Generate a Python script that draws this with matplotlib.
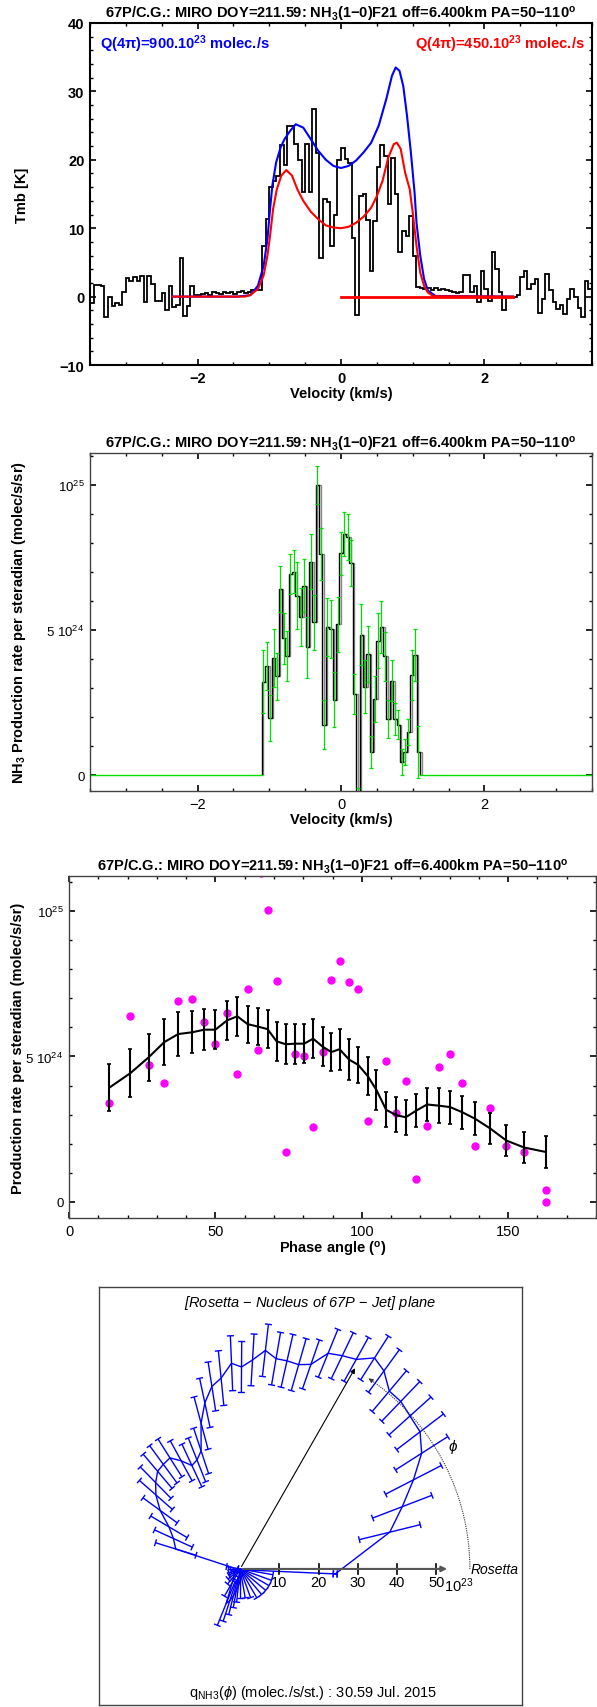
import numpy as np
import matplotlib
matplotlib.use("Agg")
import matplotlib.pyplot as plt
import matplotlib.transforms as mtransforms
from matplotlib.ticker import MultipleLocator
from matplotlib.collections import LineCollection

plt.rcParams['font.family'] = ['Liberation Sans', 'DejaVu Sans']
plt.rcParams['mathtext.fontset'] = 'custom'
plt.rcParams['mathtext.rm'] = 'Liberation Sans'
plt.rcParams['mathtext.it'] = 'Liberation Sans:italic'
plt.rcParams['mathtext.bf'] = 'Liberation Sans:bold'

W, H = 597, 1708
TITLE = r"67P/C.G.: MIRO DOY=211.59: NH$_\mathbf{3}$(1$\mathbf{-}$0)F21 off=6.400km PA=50$\mathbf{-}$110$^\mathbf{o}$"

# --- panel 1: observed spectrum and two models
spec_v0 = -3.5
spec_dv = 0.05
spec_tmb = [-1.0, 1.7, 1.7, 1.6, -3.0, 0.0, -1.4, -0.9, -1.2, 0.6, 2.7, 2.3, 2.9, 2.3, 3.0,
            -0.8, 3.0, 1.9, -0.6, -0.6, 0.5, -1.9, 1.6, -1.5, -1.3, 5.7, -2.8, -1.4, 1.5, 0.2,
            0.3, 0.4, 0.5, 0.3, 0.6, 0.5, 0.4, 0.6, 0.5, 0.7, 0.4, 0.6, 0.8, 0.5, 0.7, 0.9, 1.0, 0.9,
            7.4, 11.4, 16.0,
            16.9, 17.7, 22.2, 19.3, 24.9, 24.9, 22.3, 19.9, 15.3, 22.3, 15.3, 27.4, 21.0, 5.7,
            14.2, 13.8, 7.4, 12.0, 20.0, 21.7, 20.1, 19.6, 8.5, -2.7, 14.7, 15.0, 11.2, 3.8,
            11.0, 18.9, 22.2, 20.6, 13.5, 20.3, 15.0, 6.5, 9.6, 8.9, 11.8, 6.0,
            1.4, 1.2, 1.1, 1.3, 1.0, 1.2, 0.9, 1.1, 1.0, 0.8, 0.7, 0.5, 0.6,
            3.1, 3.1, 0.6, 1.6, -0.8, 3.8, 1.1, -0.7, 6.5, 4.1, 0.7, -1.9, 0.0, 0.0, 0.0, 0.2,
            2.8, 3.8, 1.1, 1.8, 2.6, -2.4, -0.3, 3.3, 0.9, -0.8, -1.8, -1.3, -2.5, -0.3, 1.1,
            -0.1, -1.6, -3.0, 2.3, 1.1]

blue_v = [-2.35, -1.45, -1.263, -1.158, -1.079, -1.026, -0.989, -0.958, -0.905, -0.842,
          -0.789, -0.711, -0.632, -0.526, -0.421, -0.316, -0.211, -0.105, 0.0, 0.105, 0.211,
          0.316, 0.421, 0.526, 0.632, 0.711, 0.763, 0.816, 0.868, 0.921, 0.974, 1.026, 1.053,
          1.105, 1.158, 1.211, 1.316, 2.4]
blue_tmb = [0, 0, 0.2, 1.6, 4.5, 8.4, 12.8, 16.2, 19.6, 21.8, 23.0, 24.2, 25.2, 24.7, 23.0,
            21.3, 20.0, 19.1, 18.8, 19.1, 19.9, 21.1, 22.5, 25.0, 28.9, 32.3, 33.5, 33.0, 30.8,
            26.4, 21.1, 15.2, 10.8, 6.0, 2.6, 0.9, 0.1, 0]

red_v = [-2.35, -1.34, -1.263, -1.158, -1.079, -1.026, -0.989, -0.947, -0.895, -0.832,
         -0.763, -0.684, -0.605, -0.526, -0.421, -0.316, -0.211, -0.105, 0.0, 0.105, 0.211,
         0.316, 0.421, 0.5, 0.579, 0.658, 0.737, 0.779, 0.832, 0.895, 0.958, 1.0, 1.053,
         1.105, 1.158, 1.211, 1.289, 2.4]
red_tmb = [0, 0, 0.25, 1.1, 3.1, 6.0, 8.9, 12.8, 15.7, 17.7, 18.5, 17.7, 15.6, 14.0, 12.4,
           11.3, 10.4, 10.1, 10.0, 10.2, 10.8, 11.7, 13.0, 14.7, 16.9, 20.3, 22.3, 22.5, 21.6,
           18.1, 15.7, 12.3, 7.4, 3.5, 1.6, 0.6, 0.05, 0]
red_flat_v = [0.0, 2.4]

# --- panel 2: production rate per channel (1e24 molec/s/sr)
rate_v0 = -1.105
rate_dv = 0.047
rate = [3.22, 3.77, 1.97, 4.02, 3.40, 6.41, 4.71, 4.11, 6.93, 7.01, 6.18, 5.44, 6.53, 4.40,
        7.36, 5.26, 10.0, 7.62, 1.74, 5.09, 5.03, 2.59, 5.20, 7.64, 8.30, 8.20, 7.30, 2.79,
        -0.60, 4.84, 3.05, 4.17, 0.80, 2.62, 4.63, 5.09, 4.09, 1.93, 3.25, 1.93, 1.74, 0.44,
        0.80, 1.49, 3.45, 4.14, 0.80]
rate_err = [1.09, 0.83, 0.80, 1.00, 0.82, 0.78, 0.89, 0.86, 0.70, 0.75, 1.15, 1.00, 0.90,
            1.05, 0.95, 0.95, 0.66, 0.90, 0.85, 1.00, 1.00, 0.95, 0.95, 0.75, 0.75, 0.80,
            0.80, 0.70, 0.15, 1.05, 0.90, 0.95, 0.55, 0.80, 0.95, 0.90, 0.85, 0.65, 0.70,
            0.55, 0.50, 0.45, 0.45, 0.45, 0.85, 0.90, 0.90]

# --- panel 3: rate versus phase angle
phase = [13.8, 21.0, 27.2, 32.5, 37.3, 42.0, 46.2, 50.0, 54.0, 57.5, 61.0, 64.4, 67.8, 70.9,
         74.0, 77.3, 80.3, 83.4, 86.6, 89.6, 92.4, 95.7, 98.8, 102.0, 105.0, 108.3, 111.6,
         115.0, 118.6, 122.3, 126.3, 130.2, 134.4, 138.7, 143.8, 149.4, 155.5, 162.8]
rate_mean = [3.93, 4.43, 4.97, 5.49, 5.77, 5.83, 5.92, 5.92, 6.24, 6.38, 6.11, 6.03, 5.94,
             5.52, 5.42, 5.44, 5.44, 5.61, 5.34, 5.15, 5.25, 4.89, 4.71, 4.33, 3.85, 3.17,
             2.99, 2.91, 3.14, 3.35, 3.31, 3.26, 3.08, 2.86, 2.53, 2.11, 1.87, 1.72]
rate_mean_err = [0.80, 0.81, 0.80, 0.79, 0.75, 0.72, 0.70, 0.68, 0.67, 0.66, 0.64, 0.65,
                 0.66, 0.66, 0.69, 0.69, 0.68, 0.67, 0.66, 0.65, 0.70, 0.70, 0.63, 0.64,
                 0.69, 0.61, 0.60, 0.60, 0.58, 0.57, 0.59, 0.57, 0.56, 0.56, 0.54, 0.54,
                 0.53, 0.54]
chan_phase = phase + [162.8, 65.5]
chan_rate = [3.39, 6.40, 4.69, 4.10, 6.92, 6.98, 6.17, 5.44, 6.51, 4.40, 7.33, 5.23, 10.04,
             7.60, 1.71, 5.08, 5.02, 2.57, 5.17, 7.64, 8.28, 7.57, 7.31, 2.79, np.nan, 4.83,
             3.05, 4.16, 0.80, 2.61, 4.63, 5.08, 4.08, 1.93, 3.22, 1.94, 1.73, 0.41,
             0.0, 11.32]

# --- panel 4: q(phi) in the jet plane (1e23 molec/s/st)
low_phi = [170, 180, 190, 200, 210, 220, 230, 240, 248, 252, 256, 260, 264, 270, 280, 290,
           300, 310, 320, 330, 340, 350]
low_q = [2.0, 1.5, 1.2, 1.5, 1.8, 2.0, 2.5, 4.0, 9.5, 8.5, 7.0, 5.5, 4.5, 3.0, 2.0, 1.8,
         1.5, 1.5, 1.5, 1.5, 1.5, 1.5]
low_sig = [1.5, 1.5, 1.2, 1.5, 1.5, 2.0, 2.5, 4.0, 6.0, 5.5, 5.0, 4.5, 4.0, 4.5, 5.5, 6.0,
           7.0, 7.0, 7.0, 7.0, 7.0, 7.0]
front_phi, front_q, front_sig = -3.0, 24.3, 0.5
jet_angle, jet_len = 60.2, 59.7
arc_r, arc_end = 58.6, 56.0
axis_ticks = [10, 20, 30, 40, 50]


def axpos(l, t, r, b):
    return [l / W, 1 - b / H, (r - l) / W, (b - t) / H]


def style(ax, lw=1.5, color='black'):
    for s in ax.spines.values():
        s.set_linewidth(lw)
        s.set_color(color)
    ax.tick_params(which='both', direction='in', top=True, right=True, labelsize=10.5,
                   pad=4)
    ax.tick_params(which='major', length=4.5, width=1.2)
    ax.tick_params(which='minor', length=2.2, width=1.0)


fig = plt.figure(figsize=(W / 100, H / 100), dpi=100)

# panel 1
ax = fig.add_axes(axpos(90, 24, 592, 366))
edges = spec_v0 + spec_dv * np.arange(len(spec_tmb) + 1)
ax.stairs(spec_tmb, edges, color='black', linewidth=1.3, baseline=None)
ax.plot(blue_v, blue_tmb, color='#0000ff', linewidth=1.5)
ax.plot(red_v, red_tmb, color='#ff0000', linewidth=1.5)
ax.plot(red_flat_v, [0, 0], color='#ff0000', linewidth=2.0)
ax.set_xlim(-3.5, 3.5)
ax.set_ylim(-10, 40)
ax.xaxis.set_major_locator(MultipleLocator(2))
ax.xaxis.set_minor_locator(MultipleLocator(0.5))
ax.yaxis.set_major_locator(MultipleLocator(10))
ax.yaxis.set_minor_locator(MultipleLocator(2))
style(ax)
for lab in ax.get_xticklabels() + ax.get_yticklabels():
    lab.set_fontweight('bold')
ax.set_title(TITLE, fontsize=10.5, pad=3, fontweight='bold')
ax.set_xlabel("Velocity (km/s)", fontsize=10.5, labelpad=1, fontweight='bold')
ax.set_ylabel("Tmb [K]", fontsize=10.5, labelpad=22, fontweight='bold')
ax.text(0.02, 0.94, r"Q(4$\mathbf{\pi}$)=900.10$^\mathbf{23}$ molec./s", color='#0000ff',
        fontsize=10.5, fontweight='bold', transform=ax.transAxes, ha='left', va='center')
ax.text(0.985, 0.94, r"Q(4$\mathbf{\pi}$)=450.10$^\mathbf{23}$ molec./s", color='#ff0000',
        fontsize=10.5, fontweight='bold', transform=ax.transAxes, ha='right', va='center')

# panel 2
ax = fig.add_axes(axpos(90, 454, 592, 792))
edges = rate_v0 + rate_dv * np.arange(len(rate) + 1)
centers = 0.5 * (edges[:-1] + edges[1:])
shift = ax.transData + mtransforms.ScaledTranslation(1.5 / 100, 0, fig.dpi_scale_trans)
ax.stairs(rate, edges, color='#888888', linewidth=1.0, baseline=0, transform=shift)
ax.errorbar(centers, rate, yerr=rate_err, fmt='none', ecolor='#00e000', elinewidth=0.9,
            capsize=1.2, capthick=0.9)
ax.stairs(rate, edges, color='black', linewidth=1.0, baseline=0)
ax.plot([-3.5, edges[0]], [0, 0], color='#00e000', linewidth=1.0)
ax.plot([edges[-1], 3.5], [0, 0], color='#00e000', linewidth=1.0)
ax.set_xlim(-3.5, 3.5)
ax.set_ylim(-0.55, 11.1)
ax.xaxis.set_major_locator(MultipleLocator(2))
ax.xaxis.set_minor_locator(MultipleLocator(0.5))
ax.set_yticks([0, 5, 10])
ax.set_yticklabels(['0', r'5 10$^{24}$', r'10$^{25}$'])
ax.yaxis.set_minor_locator(MultipleLocator(1))
style(ax, lw=1.0, color='#444444')
ax.tick_params(axis='y', labelsize=9.5)
ax.set_title(TITLE, fontsize=10.5, pad=3, fontweight='bold')
ax.set_xlabel("Velocity (km/s)", fontsize=10.5, labelpad=1, fontweight='bold')
ax.set_ylabel(r"NH$_\mathbf{3}$ Production rate per steradian (molec/s/sr)", fontsize=10.5,
              labelpad=13, fontweight='bold')

# panel 3
ax = fig.add_axes(axpos(69, 877, 596, 1219))
ax.plot(chan_phase, chan_rate, 'o', color='#ff00ff', markersize=6, markeredgewidth=0)
ax.errorbar(phase, rate_mean, yerr=rate_mean_err, color='black', linewidth=1.5,
            elinewidth=1.5, capsize=1.3, capthick=1.2)
ax.set_xlim(0, 180)
ax.set_ylim(-0.55, 11.2)
ax.xaxis.set_major_locator(MultipleLocator(50))
ax.xaxis.set_minor_locator(MultipleLocator(10))
ax.set_yticks([0, 5, 10])
ax.set_yticklabels(['0', r'5 10$^{24}$', r'10$^{25}$'])
ax.yaxis.set_minor_locator(MultipleLocator(1))
style(ax, lw=1.0, color='#444444')
ax.tick_params(axis='y', labelsize=9.5)
ax.set_title(TITLE, fontsize=10.5, pad=3, fontweight='bold')
ax.set_xlabel(r"Phase angle ($^\mathbf{o}$)", fontsize=10.5, labelpad=1, fontweight='bold')
ax.set_ylabel("Production rate per steradian (molec/s/sr)", fontsize=10.5, labelpad=0,
              fontweight='bold')

# panel 4
ax = fig.add_axes(axpos(99, 1288, 522, 1706))
ax.set_xlim(-36.0, 71.9)
ax.set_ylim(-34.7, 71.9)
ax.set_xticks([])
ax.set_yticks([])
for s in ax.spines.values():
    s.set_linewidth(1.0)
    s.set_color('#444444')

phi = np.radians([front_phi] + phase + low_phi + [front_phi])
q = np.array([front_q] + [10 * r for r in rate_mean] + low_q + [front_q])
sig = np.array([front_sig] + [10 * e for e in rate_mean_err] + low_sig + [front_sig])
ax.plot(q * np.cos(phi), q * np.sin(phi), color='#0000ff', linewidth=1.0)
r_in = np.maximum(q - sig, 0)
r_out = q + sig
segs = []
cap = 0.9
for p, a, b in zip(phi, r_in, r_out):
    c, s = np.cos(p), np.sin(p)
    segs.append([(a * c, a * s), (b * c, b * s)])
    for rr in (a, b):
        if rr > 0:
            segs.append([(rr * c - cap * s, rr * s + cap * c), (rr * c + cap * s, rr * s - cap * c)])
ax.add_collection(LineCollection(segs, colors='#0000ff', linewidths=1.0))

# Rosetta axis
ax.annotate("", xy=(53.5, 0), xytext=(0, 0),
            arrowprops=dict(arrowstyle='-|>', color='#555555', lw=1.5, mutation_scale=8))
for t in axis_ticks:
    ax.plot([t, t], [-1.2, 1.2], color='black', linewidth=1.2)
    ax.text(t, -1.6, str(t), ha='center', va='top', fontsize=10.5)
ax.text(51.9, -1.6, r"10$^{23}$", ha='left', va='top', fontsize=10.5)
ax.text(58.8, 0.0, "Rosetta", ha='left', va='center', fontsize=10, style='italic')

# jet direction
ja = np.radians(jet_angle)
ax.annotate("", xy=(jet_len * np.cos(ja), jet_len * np.sin(ja)), xytext=(0, 0),
            arrowprops=dict(arrowstyle='-|>', color='black', lw=0.8, mutation_scale=7))

# phase angle arc
th = np.radians(np.linspace(0, arc_end, 100))
ax.plot(arc_r * np.cos(th), arc_r * np.sin(th), color='#333333', linewidth=0.8,
        linestyle=(0, (1, 1)))
ax.annotate("", xy=(arc_r * np.cos(th[-1]), arc_r * np.sin(th[-1])),
            xytext=(arc_r * np.cos(th[-3]), arc_r * np.sin(th[-3])),
            arrowprops=dict(arrowstyle='-|>', color='#333333', lw=0.8, mutation_scale=6))
ax.text(54.4, 31.4, r"$\phi$", ha='center', va='center', fontsize=11)

ax.text(0.5, 0.963, "[Rosetta $-$ Nucleus of 67P $-$ Jet] plane", transform=ax.transAxes,
        ha='center', va='center', fontsize=10.5, style='italic')
ax.text(0.505, 0.03, r"q$_{\mathrm{NH3}}$($\phi$) (molec./s/st.) : 30.59 Jul. 2015",
        transform=ax.transAxes, ha='center', va='center', fontsize=10.5)

fig.savefig("out.png", dpi=100)
